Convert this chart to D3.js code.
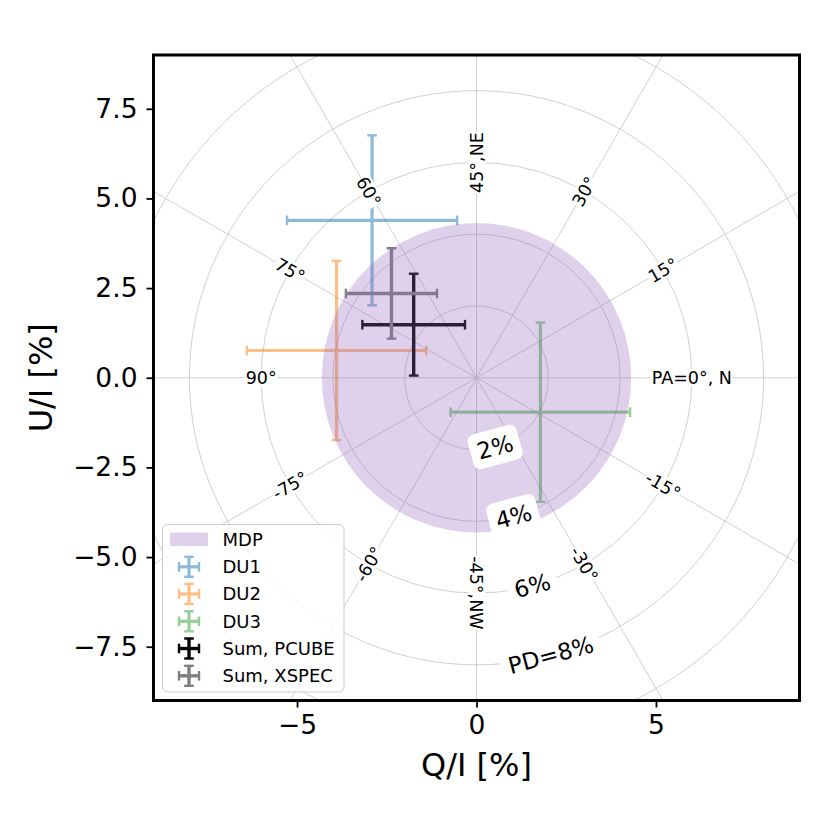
<!DOCTYPE html>
<html>
<head>
<meta charset="utf-8">
<script src="https://cdn.jsdelivr.net/npm/d3@7/dist/d3.min.js"></script>
<style>
    body { margin: 0; background: #fff; }
    text { font-family: "DejaVu Sans", sans-serif; fill: #000; }
</style>
</head>
<body>
<svg id="chart" width="830" height="830"></svg>
<script>
// Stokes Q/I, U/I measurements (percent)
const seriesNames = ['DU1', 'DU2', 'DU3', 'Sum, PCUBE', 'Sum, XSPEC'];
const qValues = [-2.91, -3.90, 1.78, -1.75, -2.37];
const uValues = [4.39, 0.76, -0.96, 1.48, 2.35];
const qErrors = [2.37, 2.50, 2.50, 1.43, 1.27];
const uErrors = [2.37, 2.50, 2.50, 1.42, 1.26];
const seriesColors = ['#1f77b4', '#ff7f0e', '#2ca02c', '#000000', '#808080'];
const seriesAlpha = [0.5, 0.5, 0.5, 1, 1];

// minimum detectable polarization
const mdpRadius = 4.31;

// polar grid
const pdRings = [2, 4, 6, 8, 10];
const pdLabelRings = [2, 4, 6, 8];
const pdLabels = ['2%', '4%', '6%', 'PD=8%'];
const paAngles = [0, 15, 30, 45, 60, 75, 90, -75, -60, -45, -30, -15];
const paLabels = ['PA=0°, N', '15°', '30°', '45°,NE', '60°', '75°', '90°',
                  '-75°', '-60°', '-45°,NW', '-30°', '-15°'];

const xTicks = [-5, 0, 5];
const yTicks = [-7.5, -5, -2.5, 0, 2.5, 5, 7.5];

const plotLeft = 153.5, plotRight = 799.5, plotTop = 55, plotBottom = 700.5;

const svg = d3.select('#chart');

const x = d3.scaleLinear().domain([-9, 9]).range([plotLeft, plotRight]);
const y = d3.scaleLinear().domain([-9, 9]).range([plotBottom, plotTop]);
const rPx = r => x(r) - x(0);

const cx = x(0), cy = y(0);

svg.append('defs').append('clipPath').attr('id', 'plotClip')
    .append('rect')
    .attr('x', plotLeft).attr('y', plotTop)
    .attr('width', plotRight - plotLeft).attr('height', plotBottom - plotTop);

const plot = svg.append('g').attr('clip-path', 'url(#plotClip)');

// grid circles and radial spokes
const gridGroup = plot.append('g')
    .attr('stroke', '#c4c4c4')
    .attr('stroke-width', 0.8)
    .attr('fill', 'none');

gridGroup.selectAll('circle')
    .data(pdRings)
    .join('circle')
    .attr('cx', cx).attr('cy', cy)
    .attr('r', d => rPx(d));

gridGroup.selectAll('line')
    .data(d3.range(0, 360, 30))
    .join('line')
    .attr('x1', cx).attr('y1', cy)
    .attr('x2', d => x(13 * Math.cos(d * Math.PI / 180)))
    .attr('y2', d => y(13 * Math.sin(d * Math.PI / 180)));

// error bars
const capHalf = 4.8;
const capWidth = 2.4;
const points = seriesNames.map((name, i) => ({
    name: name,
    q: qValues[i], u: uValues[i],
    qe: qErrors[i], ue: uErrors[i],
    color: seriesColors[i],
    alpha: seriesAlpha[i],
    lw: i < 3 ? 3.2 : 3.4
}));

const bars = plot.append('g')
    .selectAll('g')
    .data(points)
    .join('g')
    .attr('opacity', d => d.alpha)
    .attr('stroke', d => d.color);

bars.append('line')
    .attr('stroke-width', d => d.lw)
    .attr('x1', d => x(d.q - d.qe)).attr('x2', d => x(d.q + d.qe))
    .attr('y1', d => y(d.u)).attr('y2', d => y(d.u));

bars.append('line')
    .attr('stroke-width', d => d.lw)
    .attr('x1', d => x(d.q)).attr('x2', d => x(d.q))
    .attr('y1', d => y(d.u - d.ue)).attr('y2', d => y(d.u + d.ue));

[-1, 1].forEach(s => {
    bars.append('line')
        .attr('stroke-width', capWidth)
        .attr('x1', d => x(d.q + s * d.qe)).attr('x2', d => x(d.q + s * d.qe))
        .attr('y1', d => y(d.u) - capHalf).attr('y2', d => y(d.u) + capHalf);
    bars.append('line')
        .attr('stroke-width', capWidth)
        .attr('x1', d => x(d.q) - capHalf).attr('x2', d => x(d.q) + capHalf)
        .attr('y1', d => y(d.u + s * d.ue)).attr('y2', d => y(d.u + s * d.ue));
});

// MDP disc on top
plot.append('circle')
    .attr('cx', cx).attr('cy', cy)
    .attr('r', rPx(mdpRadius))
    .attr('fill', '#9467bd')
    .attr('fill-opacity', 0.3);

// label with a white box behind it
function boxedLabel(parent, px, py, rot, label, size, pad, rounded) {
    const g = parent.append('g')
        .attr('transform', `translate(${px},${py}) rotate(${-rot})`);
    const rect = g.append('rect').attr('fill', '#fff');
    const t = g.append('text')
        .attr('text-anchor', 'middle')
        .attr('dy', '0.36em')
        .attr('font-size', size + 'px')
        .text(label);
    const bb = t.node().getBBox();
    const h = size * 0.95;
    rect.attr('x', bb.x - pad).attr('y', -h / 2 - pad)
        .attr('width', bb.width + 2 * pad).attr('height', h + 2 * pad)
        .attr('rx', rounded ? pad : 0);
}

// position angle labels on the 6% ring
const labelLayer = plot.append('g');
paAngles.forEach((pa, i) => {
    const theta = 2 * pa;
    let rot = theta;
    if (rot > 90) rot -= 180;
    if (rot < -90) rot += 180;
    const a = theta * Math.PI / 180;
    boxedLabel(labelLayer, x(6 * Math.cos(a)), y(6 * Math.sin(a)), rot, paLabels[i], 17.5, 0.5, false);
});

// polarization degree labels
pdLabelRings.forEach((r, i) => {
    const a = -75 * Math.PI / 180;
    boxedLabel(labelLayer, x(r * Math.cos(a)), y(r * Math.sin(a)), 15, pdLabels[i], 23, 7, true);
});

// axes
const fmt = d => (d < 0 ? '\u2212' : '') + Math.abs(d);
const xAxis = svg.append('g')
    .attr('transform', `translate(0,${plotBottom})`)
    .call(d3.axisBottom(x).tickValues(xTicks).tickSize(7).tickPadding(8).tickFormat(fmt));
const yAxis = svg.append('g')
    .attr('transform', `translate(${plotLeft},0)`)
    .call(d3.axisLeft(y).tickValues(yTicks).tickSize(7).tickPadding(9)
        .tickFormat(d => (d < 0 ? '\u2212' : '') + Math.abs(d).toFixed(1)));

[xAxis, yAxis].forEach(ax => {
    ax.select('.domain').remove();
    ax.selectAll('.tick line').attr('stroke', '#000').attr('stroke-width', 1.8);
    ax.selectAll('.tick text')
        .attr('font-family', '"DejaVu Sans", sans-serif')
        .attr('font-size', '26.5px')
        .attr('fill', '#000');
});

svg.append('rect')
    .attr('x', plotLeft).attr('y', plotTop)
    .attr('width', plotRight - plotLeft).attr('height', plotBottom - plotTop)
    .attr('fill', 'none')
    .attr('stroke', '#000')
    .attr('stroke-width', 3);

svg.append('text')
    .attr('x', x(0)).attr('y', 776)
    .attr('text-anchor', 'middle')
    .attr('font-size', '32px')
    .text('Q/I [%]');

svg.append('text')
    .attr('transform', `translate(52,${y(0)}) rotate(-90)`)
    .attr('text-anchor', 'middle')
    .attr('font-size', '32px')
    .text('U/I [%]');

// legend
const legend = svg.append('g');
legend.append('rect')
    .attr('x', 162.5).attr('y', 524.5)
    .attr('width', 181.5).attr('height', 167.5)
    .attr('rx', 5)
    .attr('fill', '#fff').attr('fill-opacity', 0.8)
    .attr('stroke', '#cccccc').attr('stroke-width', 1);

const rowY = [539.5, 566.8, 594, 621.3, 648.5, 675.8];
const glyphX = 189;

legend.append('rect')
    .attr('x', 170).attr('y', rowY[0] - 7)
    .attr('width', 38).attr('height', 13.5)
    .attr('fill', '#9467bd').attr('fill-opacity', 0.3);

legend.append('text')
    .attr('x', 222.5).attr('y', rowY[0]).attr('dy', '0.36em')
    .attr('font-size', '18px')
    .text('MDP');

const legendRows = legend.selectAll('g.entry')
    .data(points)
    .join('g')
    .attr('class', 'entry')
    .attr('transform', (d, i) => `translate(0,${rowY[i + 1]})`);

const glyph = legendRows.append('g')
    .attr('opacity', d => d.alpha)
    .attr('stroke', d => d.color);
glyph.append('line').attr('stroke-width', d => d.lw)
    .attr('x1', glyphX - 10).attr('x2', glyphX + 10).attr('y1', 0).attr('y2', 0);
glyph.append('line').attr('stroke-width', d => d.lw)
    .attr('x1', glyphX).attr('x2', glyphX).attr('y1', -10).attr('y2', 10);
[-1, 1].forEach(s => {
    glyph.append('line').attr('stroke-width', capWidth)
        .attr('x1', glyphX + s * 10).attr('x2', glyphX + s * 10).attr('y1', -capHalf).attr('y2', capHalf);
    glyph.append('line').attr('stroke-width', capWidth)
        .attr('x1', glyphX - capHalf).attr('x2', glyphX + capHalf).attr('y1', s * 10).attr('y2', s * 10);
});

legendRows.append('text')
    .attr('x', 222.5).attr('dy', '0.36em')
    .attr('font-size', '18px')
    .text(d => d.name);
</script>
</body>
</html>
